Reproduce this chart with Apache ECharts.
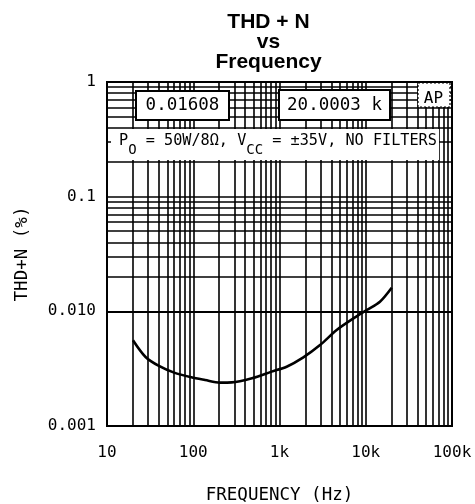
<!DOCTYPE html>
<html>
<head>
<meta charset="utf-8">
<script src="https://cdn.jsdelivr.net/npm/echarts@6/dist/echarts.min.js"></script>
<style>
html,body{margin:0;padding:0;background:#fff;}
#c{width:475px;height:504px;}
</style>
</head>
<body>
<div id="c"></div>
<script>
// ---- data ----
const freqHz = [20, 28, 40, 60, 95, 137, 204, 280, 480, 810, 1210, 1890, 2950, 4600, 7200, 10250, 14600, 20000];
const thdPct = [0.0056, 0.0040, 0.00334, 0.00292, 0.00266, 0.00252, 0.00239, 0.0024, 0.00261, 0.00298, 0.00329, 0.00397, 0.00508, 0.00688, 0.00869, 0.01027, 0.01214, 0.01608];
const xTickLabels = ['10', '100', '1k', '10k', '100k'];
const yTickLabels = ['0.001', '0.010', '0.1', '1'];
const xDecades = [10, 100, 1000, 10000];
const yDecades = [0.001, 0.01, 0.1];
const gridMultipliers = [1, 2, 3, 4, 5, 6, 7, 8, 9];

const curve = freqHz.map((f, i) => [f, thdPct[i]]);
const vLines = [];
xDecades.forEach(d => gridMultipliers.forEach(k => { if (!(d === 10 && k === 1)) vLines.push({ xAxis: d * k }); }));
const hLines = [];
yDecades.forEach(d => gridMultipliers.forEach(k => { if (!(d === 0.001 && k === 1)) hLines.push({ yAxis: +(d * k).toPrecision(3) }); }));

const MONO = '"DejaVu Sans Mono", monospace';
const chart = echarts.init(document.getElementById('c'), null, { renderer: 'canvas' });

const option = {
  animation: false,
  backgroundColor: '#fff',
  grid: { left: 107, right: 23, top: 82, bottom: 78, show: true, borderColor: '#000', borderWidth: 2, backgroundColor: 'transparent', containLabel: false, outerBoundsMode: 'none' },
  xAxis: {
    type: 'log', logBase: 10, min: 10, max: 100000,
    axisLine: { show: false }, axisTick: { show: false }, splitLine: { show: false },
    axisLabel: {
      color: '#000', fontFamily: MONO, fontSize: 16, margin: 19,
      formatter: v => xTickLabels[Math.round(Math.log10(v)) - 1]
    },
    name: 'FREQUENCY (Hz)', nameLocation: 'middle', nameGap: 60,
    nameTextStyle: { color: '#000', fontFamily: MONO, fontSize: 17.5 }
  },
  yAxis: {
    type: 'log', logBase: 10, min: 0.001, max: 1,
    axisLine: { show: false }, axisTick: { show: false }, splitLine: { show: false },
    axisLabel: {
      color: '#000', fontFamily: MONO, fontSize: 16, margin: 11,
      formatter: v => yTickLabels[Math.round(Math.log10(v)) + 3]
    },
    name: 'THD+N (%)', nameLocation: 'middle', nameGap: 76, nameRotate: 90,
    nameTextStyle: { color: '#000', fontFamily: MONO, fontSize: 17.5 }
  },
  series: [
    {
      type: 'line', data: [], silent: true, z: 1,
      markLine: {
        silent: true, symbol: ['none', 'none'], label: { show: false },
        lineStyle: { color: '#000', width: 1.6, type: 'solid' },
        emphasis: { disabled: true },
        data: vLines.concat(hLines)
      }
    },
    {
      type: 'line', data: curve, smooth: 0.3, showSymbol: false, z: 5,
      lineStyle: { color: '#000', width: 2.6 }
    }
  ],
  graphic: [
    { type: 'text', z: 100, x: 268.5, y: 12,
      style: { text: 'THD + N\nvs\nFrequency', fill: '#000', fontFamily: '"Liberation Sans", Arial, sans-serif', fontSize: 21, fontWeight: 'bold', lineHeight: 20, align: 'center', textAlign: 'center' } },
    // banner
    { type: 'rect', z: 100, shape: { x: 111, y: 129, width: 328, height: 31 }, style: { fill: '#fff', stroke: null } },
    { type: 'text', z: 101, x: 119, y: 134,
      style: {
        text: '{m|P}{s|O}{m| = 50W/8Ω, V}{s|CC}{m| = ±35V, NO FILTERS}',
        fill: '#000', align: 'left', textAlign: 'left', verticalAlign: 'top', textVerticalAlign: 'top',
        rich: {
          m: { fontFamily: MONO, fontSize: 15.2, lineHeight: 20, verticalAlign: 'top', fill: '#000' },
          s: { fontFamily: MONO, fontSize: 14, lineHeight: 14, padding: [9, 0, 0, 0], verticalAlign: 'top', fill: '#000' }
        }
      } },
    // value boxes
    { type: 'rect', z: 100, shape: { x: 136, y: 91, width: 93, height: 29 }, style: { fill: '#fff', stroke: '#000', lineWidth: 2 } },
    { type: 'text', z: 101, x: 182.5, y: 105.5,
      style: { text: '0.01608', fill: '#000', fontFamily: MONO, fontSize: 17.5, align: 'center', textAlign: 'center', verticalAlign: 'middle', textVerticalAlign: 'middle' } },
    { type: 'rect', z: 100, shape: { x: 279, y: 90, width: 111, height: 30 }, style: { fill: '#fff', stroke: '#000', lineWidth: 2 } },
    { type: 'text', z: 101, x: 334.5, y: 105.5,
      style: { text: '20.0003 k', fill: '#000', fontFamily: MONO, fontSize: 17.5, align: 'center', textAlign: 'center', verticalAlign: 'middle', textVerticalAlign: 'middle' } },
    { type: 'rect', z: 100, shape: { x: 418, y: 83, width: 32, height: 24 }, style: { fill: '#fff', stroke: '#000', lineWidth: 1.2, lineDash: [2, 2] } },
    { type: 'text', z: 101, x: 433.5, y: 99,
      style: { text: 'AP', fill: '#000', fontFamily: MONO, fontSize: 16, align: 'center', textAlign: 'center', verticalAlign: 'middle', textVerticalAlign: 'middle' } }
  ]
};
chart.setOption(option);
</script>
</body>
</html>
